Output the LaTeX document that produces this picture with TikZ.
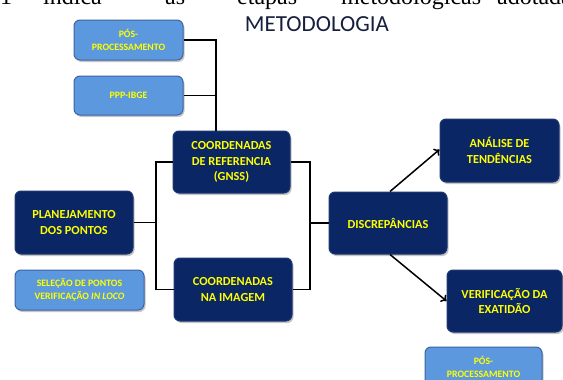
\documentclass[tikz,border=0pt]{standalone}
\usepackage{fontspec}
\setmainfont{Carlito}
\newfontfamily\timesf{Liberation Serif}
\usetikzlibrary{shadows,arrows.meta}
\definecolor{navy}{RGB}{11,38,100}
\definecolor{navyrim}{RGB}{30,55,115}
\definecolor{lblue}{RGB}{92,152,222}
\definecolor{lrim}{RGB}{60,100,165}
\definecolor{ytext}{RGB}{255,255,0}
\definecolor{titlec}{RGB}{22,32,62}
\tikzset{
  darkbox/.style={draw=navyrim, line width=1pt, fill=navy, rounded corners=6pt,
    text=ytext, font=\bfseries\fontsize{12.3}{15.5}\selectfont, align=center,
    inner sep=0pt, drop shadow={opacity=0.45, shadow xshift=1.5pt, shadow yshift=-2pt}},
  lightbox/.style={draw=lrim, line width=1pt, fill=lblue, rounded corners=6pt,
    text=ytext, font=\bfseries\fontsize{9.8}{13}\selectfont, align=center,
    inner sep=0pt, drop shadow={opacity=0.45, shadow xshift=1.5pt, shadow yshift=-2pt}},
  conn/.style={line width=1.6pt, black},
  arr/.style={line width=1.5pt, black, -{To[length=5pt,width=9pt,line width=1.5pt]}},
  topword/.style={anchor=base west, inner sep=0pt, font=\timesf\fontsize{24}{28}\selectfont},
}
\begin{document}
\begin{tikzpicture}[x=1pt,y=-1pt]
\useasboundingbox (0,0) rectangle (563,380);
\begin{scope}
\clip (0,0) rectangle (563,380);
% cut-off text line at the top
\node[topword] (w1) at (0,4.7) {1};
\node[topword] (w2) at (43,4.7) {indica};
\node[topword] (w3) at (165,4.7) {as};
\node[topword] (w4) at (237,4.7) {etapas};
\node[topword] (w5) at (341,4.7) {metodológicas};
\node[topword] (w6) at (497,4.7) {adotadas};
% title
\node[text=titlec, font=\fontsize{23}{26}\selectfont, inner sep=0pt] (title) at (317,24.5) {METODOLOGIA};
% boxes
\node[lightbox, minimum width=109pt, minimum height=40pt] (pos1) at (128.5,40) {PÓS-\\PROCESSAMENTO};
\node[lightbox, minimum width=109pt, minimum height=39pt] (ppp) at (128.5,95.5) {PPP-IBGE};
\node[darkbox, minimum width=117pt, minimum height=62pt] (ref) at (231.5,162) {COORDENADAS\\DE REFERENCIA\\(GNSS)};
\node[darkbox, minimum width=118pt, minimum height=63pt] (plan) at (74,222.5) {PLANEJAMENTO\\DOS PONTOS};
\node[lightbox, minimum width=129pt, minimum height=40pt, font=\bfseries\fontsize{9.8}{13}\selectfont] (sel) at (79.5,290) {SELEÇÃO DE PONTOS\\VERIFICAÇÃO \textit{IN LOCO}};
\node[darkbox, minimum width=118pt, minimum height=63pt] (img) at (233,289.5) {COORDENADAS\\NA IMAGEM};
\node[darkbox, minimum width=118pt, minimum height=62pt] (disc) at (388,223) {DISCREPÂNCIAS};
\node[darkbox, minimum width=119pt, minimum height=63pt] (ana) at (499.5,150.5) {ANÁLISE DE\\TENDÊNCIAS};
\node[darkbox, minimum width=115pt, minimum height=62pt] (ver) at (504.5,301) {VERIFICAÇÃO DA\\EXATIDÃO};
\node[lightbox, minimum width=117pt, minimum height=40pt, text depth=0pt] (pos2) at (483.5,367) {PÓS-\\PROCESSAMENTO};
% helper coordinates for the bracket lines
\coordinate (tx) at (216,0);
\coordinate (lx) at (156,0);
\coordinate (rx) at (310,0);
% connectors
\draw[conn] (pos1.east) -| (tx |- ref.north);
\draw[conn] (ppp.east) -- (ppp.east -| tx);
\draw[conn] (ref.west) -| (lx |- img.west) -- (img.west);
\draw[conn] (plan.east) -- (plan.east -| lx);
\draw[conn] (ref.east) -| (rx |- img.east) -- (img.east);
\draw[conn] (disc.west) -- (disc.west -| rx);
\draw[arr] ([xshift=2pt]disc.north) -- ([yshift=1pt]ana.west);
\draw[arr] ([xshift=2pt]disc.south) -- (ver.west);
\end{scope}
\end{tikzpicture}
\end{document}
